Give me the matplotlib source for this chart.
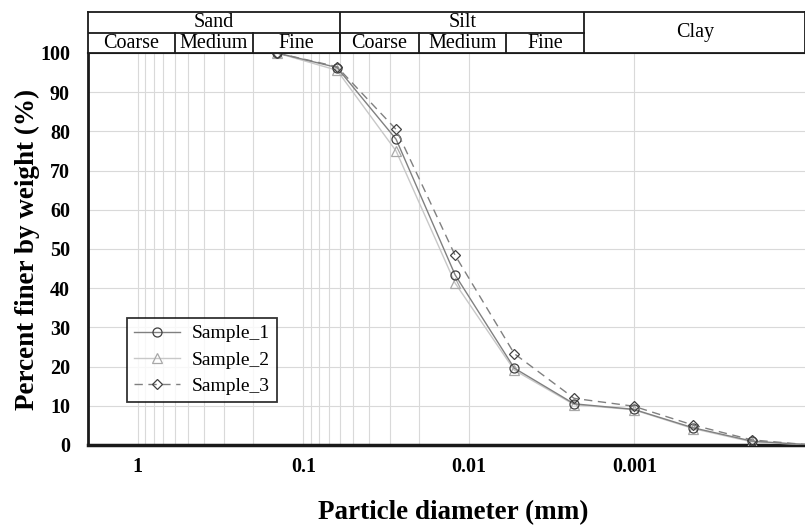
import numpy as np
import matplotlib
matplotlib.use("Agg")
import matplotlib.pyplot as plt
from matplotlib.ticker import FixedLocator, FixedFormatter, NullFormatter

plt.rcParams["font.family"] = ["Liberation Serif", "DejaVu Serif"]

# ── data ─────────────────────────────────────────────────────────────────────
diameter = [0.144, 0.0626, 0.0275, 0.0121, 0.00531, 0.00231, 0.00101,
            0.000442, 0.000195, 0.0000853]
sample_1 = [100, 96.3, 78.0, 43.4, 19.6, 10.5, 9.1, 4.4, 1.0, 0]
sample_2 = [100, 95.6, 75.0, 41.3, 19.1, 10.3, 9.0, 4.2, 0.8, 0]
sample_3 = [100, 96.5, 80.5, 48.4, 23.3, 11.9, 9.9, 5.1, 1.3, 0]

# classification bounds (mm) and names
main_bounds = [2, 0.06, 0.002, 9.3e-5]
main_names = ["Sand", "Silt", "Clay"]
sub_bounds = [2, 0.6, 0.2, 0.06, 0.02, 0.006, 0.002]
sub_names = ["Coarse", "Medium", "Fine", "Coarse", "Medium", "Fine"]

x_ticks = [1, 0.1, 0.01, 0.001]
x_tick_labels = ["1", "0.1", "0.01", "0.001"]
y_ticks = list(range(0, 101, 10))

XMIN, XMAX = 2, 9.3e-5

fig = plt.figure(figsize=(8.05, 5.28), dpi=100)
ax = fig.add_axes([88 / 805, 83 / 528, 717 / 805, 392 / 528])
hd = fig.add_axes([88 / 805, 475 / 528, 717 / 805, 41 / 528])

# ── main plot ────────────────────────────────────────────────────────────────
ax.plot(diameter, sample_1, color="#808080", lw=1.0, marker="o", ms=6.5,
        mfc="none", mec="#404040", mew=0.9, label="Sample_1", zorder=4)
ax.plot(diameter, sample_2, color="#c8c8c8", lw=1.0, marker="^", ms=6.5,
        mfc="none", mec="#a8a8a8", mew=0.9, label="Sample_2", zorder=3)
ax.plot(diameter, sample_3, color="#808080", lw=1.0, ls=(0, (6, 4)), marker="D",
        ms=4.8, mfc="none", mec="#404040", mew=0.9, label="Sample_3", zorder=5)

ax.set_xscale("log")
ax.set_xlim(XMIN, XMAX)
ax.set_ylim(0, 100)

minor = [k * 10.0 ** -d for d in range(0, 3) for k in range(2, 10)] + [2]
ax.xaxis.set_major_locator(FixedLocator(x_ticks))
ax.xaxis.set_major_formatter(FixedFormatter(x_tick_labels))
ax.xaxis.set_minor_locator(FixedLocator(minor))
ax.xaxis.set_minor_formatter(NullFormatter())
ax.set_yticks(y_ticks)

ax.grid(True, which="both", axis="x", color="#d9d9d9", lw=0.8)
ax.grid(True, which="major", axis="y", color="#d9d9d9", lw=0.8)
ax.set_axisbelow(True)

ax.tick_params(axis="both", which="both", length=0)
ax.tick_params(axis="x", pad=9)
ax.tick_params(axis="y", pad=13)
for lab in ax.get_xticklabels() + ax.get_yticklabels():
    lab.set_fontweight("bold")
    lab.set_fontsize(14.5)

ax.spines["right"].set_visible(False)
ax.spines["left"].set_linewidth(2)
ax.spines["bottom"].set_linewidth(2.5)
ax.spines["top"].set_linewidth(1.5)
for s in ["left", "bottom", "top"]:
    ax.spines[s].set_color("#1a1a1a")

ax.set_xlabel("Particle diameter (mm)", fontsize=19.5, fontweight="bold", labelpad=12)
ax.xaxis.set_label_coords(0.509, -0.14)
ax.set_ylabel("Percent finer by weight (%)", fontsize=19.5, fontweight="bold", labelpad=0)

leg = ax.legend(loc="lower left", bbox_to_anchor=(0.054, 0.11), borderaxespad=0,
                fontsize=14, frameon=True, fancybox=False, handlelength=2.4,
                labelspacing=0.45, borderpad=0.35, handletextpad=0.6)
leg.get_frame().set_edgecolor("black")
leg.get_frame().set_linewidth(1.3)

# ── header table ─────────────────────────────────────────────────────────────
hd.set_xscale("log")
hd.set_xlim(XMIN, XMAX)
hd.set_ylim(0, 2)
hd.set_xticks([])
hd.set_yticks([])
hd.minorticks_off()
for s in hd.spines.values():
    s.set_linewidth(1.3)
    s.set_color("#1a1a1a")

hd.plot([main_bounds[0], main_bounds[2]], [1, 1], color="#1a1a1a", lw=1.3)
for b in main_bounds[1:-1]:
    hd.plot([b, b], [0, 2], color="#1a1a1a", lw=1.3)
for b in sub_bounds[1:-1]:
    hd.plot([b, b], [0, 1], color="#1a1a1a", lw=1.3)

for i, name in enumerate(main_names):
    lo, hi = main_bounds[i], main_bounds[i + 1]
    xc = np.sqrt(lo * hi)
    yc = 1.5 if name != "Clay" else 1.0
    hd.text(xc, yc, name, ha="center", va="center", fontsize=14.5)
for i, name in enumerate(sub_names):
    xc = np.sqrt(sub_bounds[i] * sub_bounds[i + 1])
    hd.text(xc, 0.46, name, ha="center", va="center", fontsize=14.5)

plt.savefig("out.png", dpi=100)
